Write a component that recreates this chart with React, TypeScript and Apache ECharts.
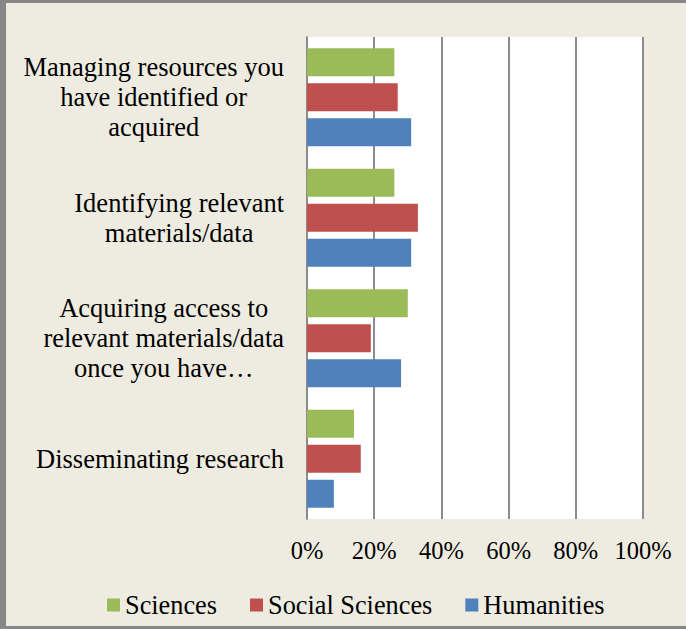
import React, { useEffect, useRef } from "react";
import * as echarts from "echarts";

const categories = [
  "Managing resources you\nhave identified or\nacquired",
  "Identifying relevant\nmaterials/data",
  "Acquiring access to\nrelevant materials/data\nonce you have…",
  "Disseminating research",
];
const seriesNames = ["Sciences", "Social Sciences", "Humanities"];
const sciences = [26, 26, 30, 14];
const socialSciences = [27, 33, 19, 16];
const humanities = [31, 31, 28, 8];
const xTicks = [0, 20, 40, 60, 80, 100];

const COLORS = ["#9BBB59", "#C0504D", "#4F81BD"];
const FONT = "'Liberation Serif', 'Times New Roman', serif";

export default function App() {
  const ref = useRef<HTMLDivElement>(null);
  useEffect(() => {
    if (!ref.current) return;
    const chart = echarts.init(ref.current, undefined, { renderer: "svg" });
    const values = [sciences, socialSciences, humanities];
    chart.setOption({
      animation: false,
      backgroundColor: "#EEECE1",
      textStyle: { fontFamily: FONT },
      grid: {
        left: 307,
        right: 43,
        top: 37,
        bottom: 110,
        show: true,
        backgroundColor: "#ffffff",
        borderWidth: 0,
      },
      legend: {
        data: seriesNames,
        left: 102,
        top: 587,
        itemWidth: 13,
        itemHeight: 13,
        itemGap: 33,
        icon: "rect",
        textStyle: { fontFamily: FONT, fontSize: 26.3, color: "#000" },
      },
      xAxis: {
        type: "value",
        min: xTicks[0],
        max: xTicks[xTicks.length - 1],
        interval: 20,
        axisLine: { show: false },
        axisTick: { show: false },
        splitLine: { show: true, lineStyle: { color: "#8c8c8c", width: 2 } },
        axisLabel: {
          formatter: "{value}%",
          fontFamily: FONT,
          fontSize: 24.5,
          color: "#000",
          margin: 19,
        },
      },
      yAxis: {
        type: "category",
        inverse: true,
        data: categories,
        axisLine: { show: true, lineStyle: { color: "#8c8c8c", width: 2 } },
        axisTick: { show: false },
        splitLine: { show: false },
        axisLabel: {
          align: "right",
          margin: 23,
          formatter: (v: string) =>
            v
              .split("\n")
              .map((l) => `{c|${l}}`)
              .join("\n"),
          rich: {
            c: {
              align: "center",
              fontFamily: FONT,
              fontSize: 26.5,
              lineHeight: 30,
              color: "#000",
            },
          },
        },
      },
      series: seriesNames.map((name, i) => ({
        name,
        type: "bar",
        data: values[i],
        barWidth: 28,
        barGap: "25%",
        itemStyle: { color: COLORS[i] },
      })),
    });
    return () => chart.dispose();
  }, []);
  return (
    <div style={{ position: "fixed", left: 0, top: 0, width: 686, height: 629 }}>
      <div ref={ref} style={{ width: 686, height: 629 }} />
      <div
        style={{
          position: "absolute",
          left: 0,
          top: 0,
          width: 686,
          height: 629,
          boxSizing: "border-box",
          borderLeft: "6px solid #878787",
          borderTop: "3px solid #878787",
          borderBottom: "3px solid #878787",
          pointerEvents: "none",
        }}
      />
    </div>
  );
}
